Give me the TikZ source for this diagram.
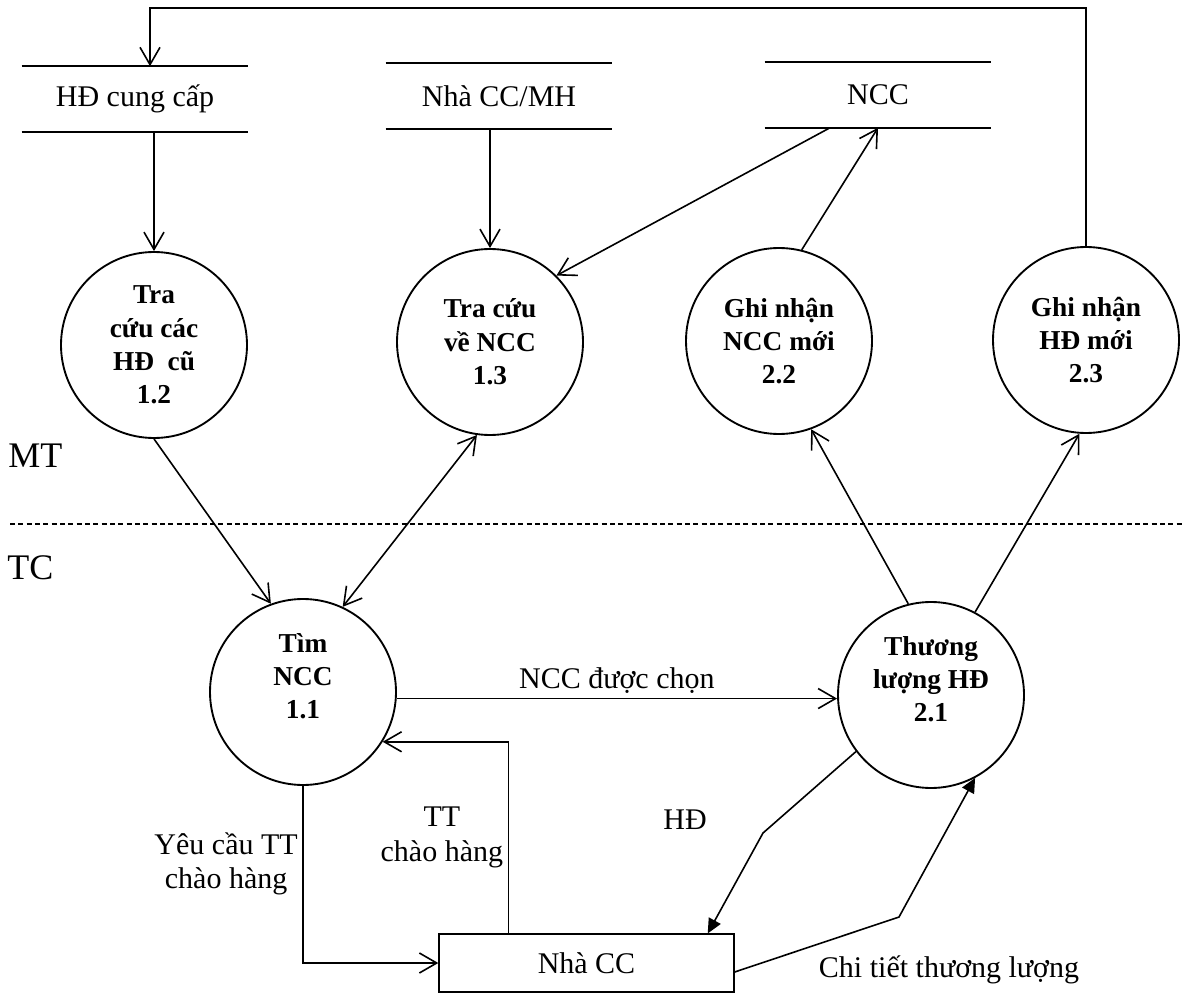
\documentclass[tikz,border=0pt]{standalone}
\usepackage{fontspec}
\setmainfont{Liberation Serif}
\usetikzlibrary{arrows.meta,positioning,calc}

\begin{document}
\begin{tikzpicture}[x=0.75pt,y=-0.75pt,
  proc/.style={circle,draw,line width=1.4pt,minimum size=139.5pt,inner sep=0pt,align=center,font=\fontsize{20.5}{25}\selectfont\bfseries},
  store/.style={minimum width=169.5pt,minimum height=48.75pt,inner sep=0pt,font=\fontsize{22.5}{26}\selectfont},
  entity/.style={draw,line width=1.3pt,minimum width=221pt,minimum height=43pt,font=\fontsize{22.5}{26}\selectfont},
  lbl/.style={align=center,font=\fontsize{22.5}{26}\selectfont},
  zone/.style={inner sep=0pt,font=\fontsize{27}{30}\selectfont},
  flow/.style={-{Straight Barb[length=13pt,width=15pt]},line width=1.2pt},
  twoway/.style={{Straight Barb[length=13pt,width=15pt]}-{Straight Barb[length=13pt,width=15pt]},line width=1.2pt},
  hflow/.style={-{Triangle[length=11pt,width=10pt]},line width=1.2pt}
]
\useasboundingbox (0,0) rectangle (1184,994);

% data stores
\node[store] (hdstore) at (135,99) {HĐ cung cấp};
\node[store] (mhstore) at (499,96) {Nhà CC/MH};
\node[store] (nccstore) at (878,95) {NCC};
\foreach \s in {hdstore,mhstore,nccstore}
  \draw[line width=1.4pt] (\s.north west) -- (\s.north east) (\s.south west) -- (\s.south east);

% processes
\node[proc] (c12) at (154,345) {Tra\\cứu các\\HĐ\ \ cũ\\1.2};
\node[proc] (c13) at (490,342) {Tra cứu\\về NCC\\1.3};
\node[proc] (c22) at (779,341) {Ghi nhận\\NCC mới\\2.2};
\node[proc] (c23) at (1086,340) {Ghi nhận\\HĐ mới\\2.3};
\node[proc,text depth=24pt] (c11) at (303,692) {Tìm\\NCC\\1.1};
\node[proc,text depth=24pt] (c21) at (931,695) {Thương\\lượng HĐ\\2.1};

% external entity
\node[entity] (supplier) at (586.5,963) {Nhà CC};

% zones
\node[zone,anchor=west] (mt) at (8,456) {MT};
\node[zone,anchor=west] (tc) at (7,568) {TC};
\draw[line width=1.1pt,dash pattern=on 3.75pt off 2.5pt] (10,524) -- (1184,524);

% flows
\draw[flow] (hdstore.south -| c12.north) -- (c12.north);
\draw[flow] (mhstore.south -| c13.north) -- (c13.north);
\draw[flow] ($(nccstore.south)+(-48,0)$) -- (c13.45);
\draw[flow] (c22.76) -- (nccstore.south);
\coordinate (loop) at (150,8);
\draw[flow] (c23.north) |- (loop) -- (loop |- hdstore.north);
\draw[flow] (c12.south) -- (c11.110);
\draw[twoway] (c11.65) -- (c13.262);
\draw[flow] (c11.-4) -- (c11.-4 -| c21.west) node[lbl,midway,above] (lchosen) {NCC được chọn};
\draw[flow] (c21.104) -- (c22.-70);
\draw[flow] (c21.62) -- (c23.-94);
\draw[flow] ($(supplier.north west)+(70,0)$) |- (c11.-32) node[lbl,pos=0.25,left] (loffer) {TT\\chào hàng};
\draw[flow] (c11.south) |- (supplier.west) node[lbl,pos=0.22,left] (lrequest) {Yêu cầu TT\\chào hàng};
\coordinate (hdbend) at (763,833);
\draw[hflow] (c21.-143) -- (hdbend) -- ($(supplier.north east)+(-27,0)$);
\node[lbl] (lhd) at (685,820) {HĐ};
\coordinate (ctbend) at (899,917);
\draw[hflow] ($(supplier.east)+(0,9)$) -- (ctbend) -- (c21.-62);
\node[lbl] (ldetail) at (949,970) {Chi tiết thương lượng};
\end{tikzpicture}
\end{document}
